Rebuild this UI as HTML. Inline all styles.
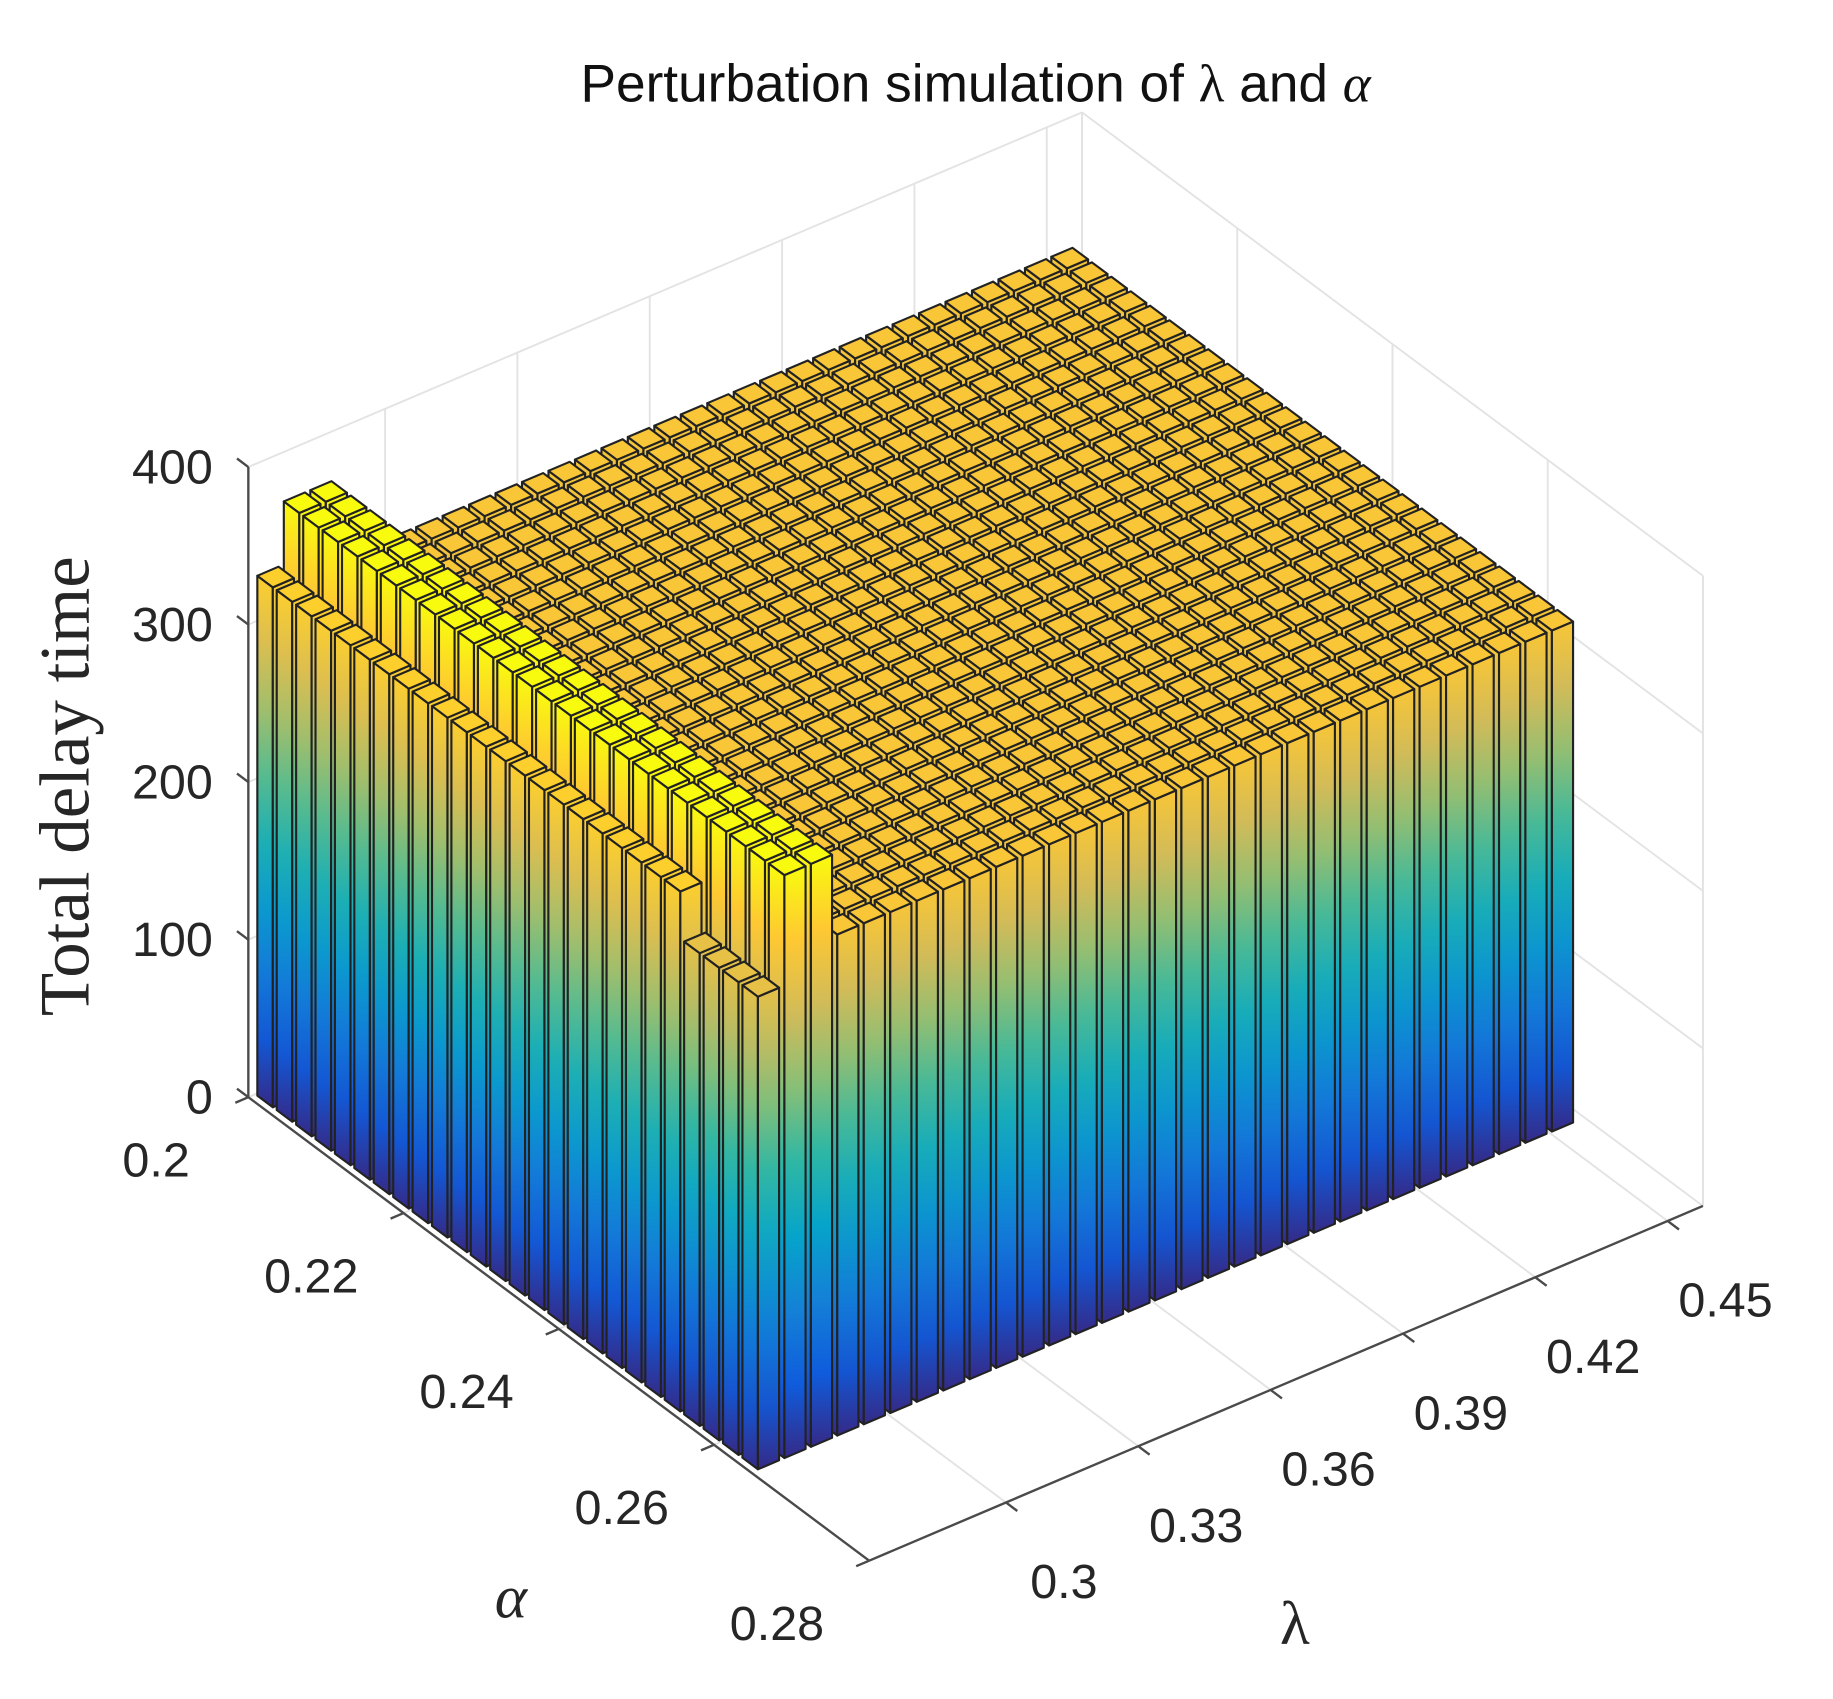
<!DOCTYPE html>
<html><head><meta charset="utf-8"><title>Perturbation simulation</title>
<style>html,body{margin:0;padding:0;background:#fff;}svg{display:block;}</style></head>
<body>
<svg id="chart" width="1833" height="1699" viewBox="0 0 1550 1437" preserveAspectRatio="none" xmlns="http://www.w3.org/2000/svg">
<defs id="defs"></defs>
<g id="grid"></g>
<g id="bars"></g>
<g id="axes"></g>
<text x="825" y="86" text-anchor="middle" font-family="Liberation Sans, sans-serif" font-size="45" fill="#111">Perturbation simulation of <tspan font-family="Liberation Serif, serif">λ</tspan> and <tspan font-family="Liberation Serif, serif" font-style="italic">α</tspan></text>
<text transform="translate(75,665) rotate(-90)" text-anchor="middle" font-family="Liberation Serif, serif" font-size="60" fill="#262626">Total delay time</text>
<text x="432" y="1368" text-anchor="middle" font-family="Liberation Serif, serif" font-style="italic" font-size="52" fill="#262626">α</text>
<text x="1095" y="1390" text-anchor="middle" font-family="Liberation Serif, serif" font-size="52" fill="#262626">λ</text>
</svg>
<script>
const alphaVals = [0.2,0.2025,0.205,0.2075,0.21,0.2125,0.215,0.2175,0.22,0.2225,0.225,0.2275,0.23,0.2325,0.235,0.2375,0.24,0.2425,0.245,0.2475,0.25,0.2525,0.255,0.2575,0.26,0.2625];
const lambdaVals = [0.27,0.276,0.282,0.288,0.294,0.3,0.306,0.312,0.318,0.324,0.33,0.336,0.342,0.348,0.354,0.36,0.366,0.372,0.378,0.384,0.39,0.396,0.402,0.408,0.414,0.42,0.426,0.432,0.438,0.444,0.45];
const heightRow0 = [330,330,330,330,330,330,330,330,330,330,330,330,330,330,330,330,330,330,330,330,330,330,300,300,300,300];
const heightRow1 = [370,370,370,370,370,370,370,370,370,370,370,370,370,370,370,370,370,370,370,370,370,370,370,370,370,370];
const heightRow2 = [370,370,370,370,370,370,370,370,370,370,370,370,370,370,370,370,370,370,370,370,370,370,370,370,370,370];
const heightRowRest = [318,318,318,318,318,318,318,318,318,318,318,318,318,318,318,318,318,318,318,318,318,318,318,318,318,318];
const zTicks = [0,100,200,300,400];
const zTickLabels = ["0","100","200","300","400"];
const alphaTicks = [0.2,0.22,0.24,0.26,0.28];
const alphaTickLabels = ["0.2","0.22","0.24","0.26","0.28"];
const lambdaTicks = [0.3,0.33,0.36,0.39,0.42,0.45];
const lambdaTickLabels = ["0.3","0.33","0.36","0.39","0.42","0.45"];

const NS = "http://www.w3.org/2000/svg";
const A0 = 0.2, A1 = 0.28, L0 = 0.269, L1 = 0.458, ZMAX = 400;
const dA = 0.0025, dL = 0.006;
function P(a, l, z) {
  const fa = (a - A0) / (A1 - A0), fl = (l - L0) / (L1 - L0);
  return [210 + fa * 525 + fl * 705, 928 + fa * 392 - fl * 300 - z * 533 / ZMAX];
}
function heightsFor(j) {
  if (j === 0) return heightRow0;
  if (j === 1) return heightRow1;
  if (j === 2) return heightRow2;
  return heightRowRest;
}
const parulaStops = ["#352a87","#0f5cdd","#1481d6","#06a4ca","#2eb7a4","#87bf77","#d1bb59","#fec832","#f9fb0e"];
function hex2rgb(h){return [parseInt(h.slice(1,3),16),parseInt(h.slice(3,5),16),parseInt(h.slice(5,7),16)];}
function parula(t){
  t = Math.max(0, Math.min(1, t));
  const s = t * 8, k = Math.min(7, Math.floor(s)), f = s - k;
  const c0 = hex2rgb(parulaStops[k]), c1 = hex2rgb(parulaStops[k + 1]);
  return "rgb(" + c0.map((v, i) => Math.round(v + (c1[i] - v) * f)).join(",") + ")";
}
function line(g, p, q, stroke, w, name) {
  const el = document.createElementNS(NS, "line");
  el.setAttribute("x1", p[0]); el.setAttribute("y1", p[1]);
  el.setAttribute("x2", q[0]); el.setAttribute("y2", q[1]);
  el.setAttribute("stroke", stroke); el.setAttribute("stroke-width", w);
  
  
  g.appendChild(el);
  return el;
}
function txt(g, x, y, s, anchor, name) {
  const t = document.createElementNS(NS, "text");
  t.setAttribute("x", x); t.setAttribute("y", y);
  t.setAttribute("text-anchor", anchor);
  t.setAttribute("font-family", "Liberation Sans, sans-serif");
  t.setAttribute("font-size", "41");
  t.setAttribute("fill", "#262626");
  t.textContent = s;
  
  
  g.appendChild(t);
}

// grid
const grid = document.getElementById("grid");
const gc = "#e3e3e3", gw = 1.6;
zTicks.forEach(z => {
  line(grid, P(A0, L0, z), P(A0, L1, z), gc, gw, "z-grid-left-wall");
  line(grid, P(A0, L1, z), P(A1, L1, z), gc, gw, "z-grid-right-wall");
});
lambdaTicks.forEach(l => {
  line(grid, P(A0, l, 0), P(A0, l, ZMAX), gc, gw, "lambda-grid-wall");
  line(grid, P(A0, l, 0), P(A1, l, 0), gc, gw, "lambda-grid-floor");
});
alphaTicks.forEach(a => {
  line(grid, P(a, L1, 0), P(a, L1, ZMAX), gc, gw, "alpha-grid-wall");
  line(grid, P(a, L0, 0), P(a, L1, 0), gc, gw, "alpha-grid-floor");
});
line(grid, P(A0, L1, 0), P(A0, L1, ZMAX), gc, gw, "back-corner-edge");
line(grid, P(A1, L1, 0), P(A1, L1, ZMAX), gc, gw, "right-corner-edge");

// bars
const defs = document.getElementById("defs");
let cmax = 0;
lambdaVals.forEach((l, j) => heightsFor(j).forEach(h => { if (h > cmax) cmax = h; }));
const gradIds = {};
function gradFor(h) {
  if (gradIds[h]) return gradIds[h];
  const id = "g" + h;
  const lg = document.createElementNS(NS, "linearGradient");
  lg.setAttribute("id", id);
  lg.setAttribute("x1", "0"); lg.setAttribute("y1", "1"); lg.setAttribute("x2", "0"); lg.setAttribute("y2", "0");
  for (let k = 0; k <= 8; k++) {
    const st = document.createElementNS(NS, "stop");
    st.setAttribute("offset", (k / 8).toFixed(3));
    st.setAttribute("stop-color", parula((k / 8) * h / cmax));
    lg.appendChild(st);
  }
  defs.appendChild(lg);
  gradIds[h] = id;
  return id;
}
const items = [];
lambdaVals.forEach((l, j) => {
  const hs = heightsFor(j);
  alphaVals.forEach((a, i) => {
    const c = P(a + dA / 2, l + dL / 2, 0);
    items.push({ a: a, l: l, h: hs[i], i: i, j: j, key: c[1] });
  });
});
items.sort((p, q) => p.key - q.key);
const barsG = document.getElementById("bars");
function poly(g, pts, fill, name) {
  const el = document.createElementNS(NS, "polygon");
  el.setAttribute("points", pts.map(p => p[0].toFixed(1) + "," + p[1].toFixed(1)).join(" "));
  el.setAttribute("fill", fill);
  el.setAttribute("stroke", "#222");
  el.setAttribute("stroke-width", "1.8");
  el.setAttribute("stroke-linejoin", "round");
  
  
  g.appendChild(el);
}
items.forEach(b => {
  const a0 = b.a + 0.1 * dA, a1 = b.a + 0.9 * dA;
  const l0 = b.l + 0.1 * dL, l1 = b.l + 0.9 * dL;
  const h = b.h;
  const g = document.createElementNS(NS, "g");
  
  
  const grad = "url(#" + gradFor(h) + ")";
  poly(g, [P(a0, l0, 0), P(a1, l0, 0), P(a1, l0, h), P(a0, l0, h)], grad, "bar-side-lambda");
  poly(g, [P(a1, l0, 0), P(a1, l1, 0), P(a1, l1, h), P(a1, l0, h)], grad, "bar-side-alpha");
  poly(g, [P(a0, l0, h), P(a1, l0, h), P(a1, l1, h), P(a0, l1, h)], parula(h / cmax), "bar-top");
  barsG.appendChild(g);
});

// axes
const axes = document.getElementById("axes");
const ac = "#4a4a4a", aw = 2;
line(axes, P(A0, L0, 0), P(A0, L0, ZMAX), ac, aw, "z-axis-line");
line(axes, P(A0, L0, 0), P(A1, L0, 0), ac, aw, "alpha-axis-line");
line(axes, P(A1, L0, 0), P(A1, L1, 0), ac, aw, "lambda-axis-line");
zTicks.forEach((z, k) => {
  const p = P(A0, L0, z);
  line(axes, p, [p[0] - 9.6, p[1] - 7.2], ac, aw, "z-tick");
  txt(axes, p[0] - 30, p[1] + 14, zTickLabels[k], "end", "z-tick-label");
});
alphaTicks.forEach((a, k) => {
  const p = P(a, L0, 0);
  line(axes, p, [p[0] - 11, p[1] + 4.7], ac, aw, "alpha-tick");
  txt(axes, p[0] - 78, p[1] + 67, alphaTickLabels[k], "middle", "alpha-tick-label");
});
lambdaTicks.forEach((l, k) => {
  const p = P(A1, l, 0);
  line(axes, p, [p[0] + 9.6, p[1] + 7.2], ac, aw, "lambda-tick");
  txt(axes, p[0] + 49, p[1] + 81, lambdaTickLabels[k], "middle", "lambda-tick-label");
});
</script>
</body></html>
